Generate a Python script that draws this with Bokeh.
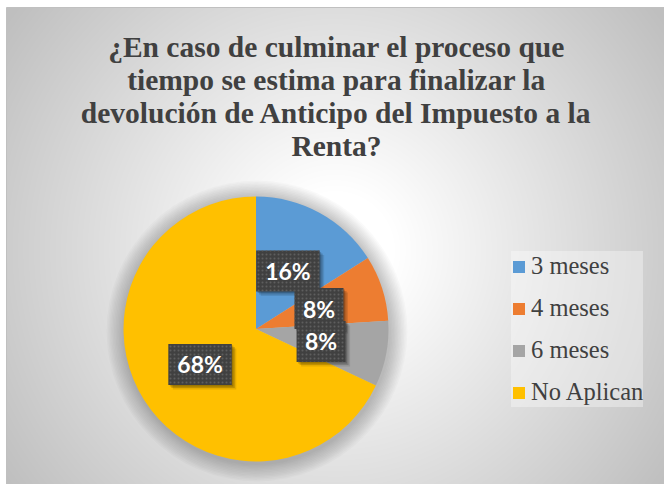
import numpy as np
from bokeh.plotting import figure
from bokeh.models import Range1d, Legend, LegendItem, Label, ColumnDataSource
from bokeh.core.properties import value
from bokeh.embed import file_html
from bokeh.resources import INLINE

# ---- data ----
categories = ["3 meses", "4 meses", "6 meses", "No Aplican"]
percentages = [16, 8, 8, 68]
colors = ["#5B9BD5", "#ED7D31", "#A5A5A5", "#FFC000"]
title_lines = [
    "¿En caso de culminar el proceso que",
    "tiempo se estima para finalizar la",
    "devolución de Anticipo del Impuesto a la",
    "Renta?",
]

W, H = 664, 484


def X(px):
    return px


def Y(py):
    return H - py


p = figure(width=W, height=H, x_range=Range1d(0, W), y_range=Range1d(0, H),
           output_backend="svg", toolbar_location=None, min_border=0,
           x_axis_location=None, y_axis_location=None)
p.grid.visible = False
p.outline_line_color = None
p.background_fill_color = "white"
p.border_fill_color = "white"

# ---- chart area with radial gradient background ----
CL, CT = 6, 7  # chart area left / top (page px)
cw, ch = W - CL, H - CT
yy, xx = np.mgrid[0:ch, 0:cw]
page_x = xx + 0.5 + CL
page_y = H - (yy + 0.5)
d = np.hypot(page_x - 335, page_y - 250)
t = np.clip((d - 60) / 344.0, 0, 1)
v = (255 - 64 * t).astype(np.uint32)
img = np.empty((ch, cw), dtype=np.uint32)
view = img.view(dtype=np.uint8).reshape((ch, cw, 4))
view[..., 0] = v
view[..., 1] = v
view[..., 2] = v
view[..., 3] = 255
p.image_rgba(image=[img], x=CL, y=0, dw=cw, dh=ch)
p.quad(left=CL, right=W + 2, bottom=-2, top=Y(CT), fill_color=None,
       line_color="#c0c0c0", line_width=1)

# ---- pie ----
cx, cy, R = X(255.5), Y(328.5), 132.5
total = float(sum(percentages))
fr = np.array(percentages) / total
cum = np.concatenate([[0], np.cumsum(fr)])
start = np.pi / 2 - 2 * np.pi * cum[:-1]
end = np.pi / 2 - 2 * np.pi * cum[1:]

# soft shadow halo
for i in range(12):
    p.circle(x=cx + 1, y=cy - 2, radius=R + 1.5 * (12 - i), fill_color="black",
             fill_alpha=0.018, line_color=None)

src = ColumnDataSource(dict(cat=categories, val=percentages, start=start,
                            end=end, color=colors))
wedges = p.wedge(x=cx, y=cy, radius=R, start_angle="start", end_angle="end",
                 direction="clock", fill_color="color", line_color=None,
                 source=src)

# ---- data labels ----
mid = (start + end) / 2
lab_r = 0.5 * R
lx = cx + lab_r * np.cos(mid)
ly = cy + lab_r * np.sin(mid)
texts = [f"{v}%" for v in percentages]
bw = np.array([20 + 14.5 * len(t) for t in texts])
bh = 41
for off, a in [(4.5, 0.10), (3.0, 0.16), (1.5, 0.18)]:
    p.rect(x=lx + off, y=ly - off, width=bw, height=bh, fill_color="black",
           fill_alpha=a, line_color=None)
p.rect(x=lx, y=ly, width=bw, height=bh, fill_color="#404040", line_color=None,
       hatch_pattern="dot", hatch_color="#5e5e5e", hatch_scale=4, hatch_weight=1.2)
p.text(x=lx, y=ly, text=texts, text_align="center", text_baseline="middle",
       text_color="white", text_font=value("Lato"), text_font_style="bold",
       text_font_size="23px")

# ---- title ----
title_centers = [46, 79, 112, 145]
for line, by in zip(title_lines, title_centers):
    p.add_layout(Label(x=X(336), y=Y(by), text=line, text_align="center",
                       text_baseline="middle", text_color="#404040",
                       text_font="Liberation Serif", text_font_style="bold",
                       text_font_size="29.5px"))

# ---- legend ----
items = [LegendItem(label=c, renderers=[wedges], index=i)
         for i, c in enumerate(categories)]
legend = Legend(items=items, location=(X(511), Y(407)), margin=0, padding=8,
                spacing=12, label_height=30, glyph_height=15, glyph_width=15,
                label_standoff=5, label_text_font="Liberation Serif",
                label_text_font_size="24.5px", label_text_color="#404040",
                border_line_color=None, background_fill_color="white",
                background_fill_alpha=0.35)
p.add_layout(legend)

open("out.html", "w").write(file_html(p, INLINE))
